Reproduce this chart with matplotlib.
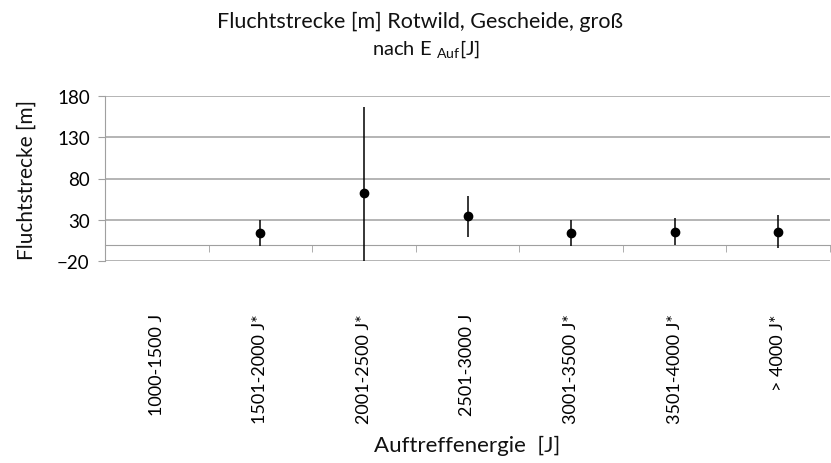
import matplotlib
matplotlib.use("Agg")
import matplotlib.pyplot as plt
import numpy as np

# categories and values (first class has no data)
categories = ["1000-1500 J", "1501-2000 J*", "2001-2500 J*", "2501-3000 J",
              "3001-3500 J*", "3501-4000 J*", "> 4000 J*"]
means = [np.nan, 14, 62, 34, 14, 15.5, 15.5]
errors = [np.nan, 16, 105, 24.5, 16, 16.5, 20]
y_ticks = [-20, 30, 80, 130, 180]

plt.rcParams["font.family"] = ["Lato", "DejaVu Sans"]
plt.rcParams["mathtext.fontset"] = "custom"
plt.rcParams["mathtext.rm"] = "Lato"
plt.rcParams["mathtext.it"] = "Lato:italic"

W, H = 831, 464
fig = plt.figure(figsize=(W / 100, H / 100), dpi=100)
ax = fig.add_axes([105 / W, 1 - 262 / H, 725 / W, 165 / H])

grid_col = "#a0a0a0"
x = np.arange(len(categories))
ax.errorbar(x, means, yerr=errors, fmt="o", color="black", ms=6,
            elinewidth=1.1, capsize=0, zorder=3)

ax.set_xlim(-0.5, len(categories) - 0.5)
ax.set_ylim(y_ticks[0], y_ticks[-1])
ax.set_yticks(y_ticks)
ax.yaxis.grid(True, color=grid_col, linewidth=1.1)
ax.set_axisbelow(True)

for side in ["top", "right"]:
    ax.spines[side].set_visible(False)
ax.spines["left"].set_color(grid_col)
ax.spines["bottom"].set_color(grid_col)
ax.spines["bottom"].set_position(("data", 0))

ax.set_xticks(x)
ax.set_xticklabels(categories, rotation=90, fontsize=13)
ax.set_xticks(np.arange(-0.5, len(categories), 1), minor=True)
ax.tick_params(axis="x", which="major", length=0, pad=49.5)
ax.tick_params(axis="x", which="minor", length=5, color=grid_col, direction="out")
ax.tick_params(axis="y", length=5, color=grid_col, labelsize=13.5, pad=6)

ax.set_xlabel("Auftreffenergie  [J]", fontsize=16, color="#111111")
ax.xaxis.set_label_coords(0.5, -1.054)
ax.set_ylabel("Fluchtstrecke [m]", fontsize=15, color="#111111")
ax.yaxis.set_label_coords(-0.094, 0.5)

fig.text(420 / W, 1 - 22 / H, "Fluchtstrecke [m] Rotwild, Gescheide, groß",
         ha="center", va="center", fontsize=15.5, color="#111111")
fig.text(426 / W, 1 - 49 / H, r"nach E $_{\mathrm{Auf}}$[J]",
         ha="center", va="center", fontsize=14.5, color="#111111")

fig.savefig("out.png", dpi=100)
